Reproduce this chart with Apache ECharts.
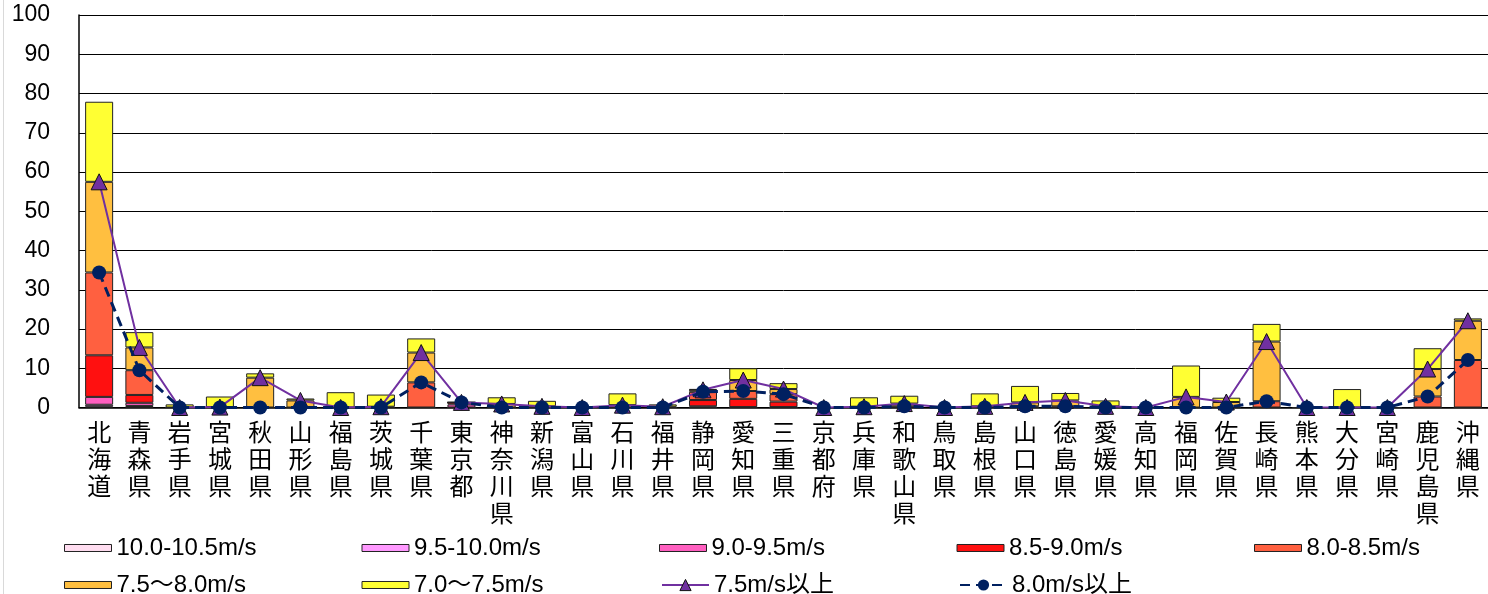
<!DOCTYPE html>
<html>
<head>
<meta charset="utf-8">
<script src="https://cdn.jsdelivr.net/npm/echarts@6/dist/echarts.min.js"></script>
<style>
  html, body { margin: 0; padding: 0; background: #fff; }
  #chart { width: 1488px; height: 594px; }
</style>
</head>
<body>
<div id="chart"></div>
<script>
// Prefectures shown on the category axis
const prefectures = ['北海道','青森県','岩手県','宮城県','秋田県','山形県','福島県','茨城県','千葉県','東京都',
  '神奈川県','新潟県','富山県','石川県','福井県','静岡県','愛知県','三重県','京都府','兵庫県',
  '和歌山県','鳥取県','島根県','山口県','徳島県','愛媛県','高知県','福岡県','佐賀県','長崎県',
  '熊本県','大分県','宮崎県','鹿児島県','沖縄県'];

// Stacked wind-speed classes (bottom to top)
const ws100_105 = [0.2,0.1,0,0,0,0,0,0,0,0, 0,0,0,0,0,0,0,0,0,0, 0,0,0,0,0,0,0,0,0,0, 0,0,0,0,0];
const ws095_100 = [0.5,0.3,0,0,0,0,0,0,0,0, 0,0,0,0,0,0,0,0,0,0, 0,0,0,0,0,0,0,0,0,0, 0,0,0,0,0];
const ws090_095 = [2.0,0.8,0,0,0,0,0,0,0,0.8, 0,0,0,0,0,0.3,0.1,0.1,0,0, 0,0,0,0,0,0,0,0,0,0, 0,0,0,0,0];
const ws085_090 = [10.6,2.0,0,0,0,0,0,0,0,0.5, 0,0,0,0,0,1.6,2.1,1.4,0,0, 0,0,0,0,0,0,0,0,0,0, 0,0,0,0,0];
const ws080_085 = [21.1,6.3,0,0,0,0,0,0,6.4,0, 0,0,0,0,0,2.1,2.0,1.9,0,0, 0.3,0,0,0.3,0.3,0,0,0,0,1.6, 0,0,0,2.8,12.1];
const ws075_080 = [23.1,5.8,0,0.1,7.6,1.8,0,0.2,7.6,0, 0.9,0.3,0,0.6,0.2,0.5,2.8,1.3,0,0.2, 0.7,0,0.3,1.0,1.5,0.3,0,2.7,1.4,15.2, 0,0,0,7.0,10.0];
const ws070_075 = [20.4,3.9,0.8,2.7,1.1,0.5,3.9,3.1,3.6,0, 1.7,1.4,0,3.0,0.6,0.2,3.0,1.5,0,2.4, 2.0,0,3.3,4.2,1.9,1.5,0,8.0,1.1,4.5, 0,4.7,0,5.3,0.6];

// Totals above thresholds
const over75 = [57.5,15.3,0,0.1,7.6,1.8,0,0.2,14.0,1.3, 0.9,0.3,0,0.6,0.2,4.5,7.0,4.7,0,0.2, 1.0,0,0.3,1.3,1.8,0.3,0,2.7,1.4,16.8, 0,0,0,9.8,22.1];
const over80 = [34.4,9.5,0,0,0,0,0,0,6.4,1.3, 0,0,0,0,0,4.0,4.2,3.4,0,0, 0.3,0,0,0.3,0.3,0,0,0,0,1.6, 0,0,0,2.8,12.1];

const yTicks = { min: 0, max: 100, interval: 10 };

const FONT = '"Liberation Sans", "Noto Sans CJK JP", sans-serif';
const FONT_JP = '"Noto Sans CJK JP", "Noto Sans", sans-serif';

const barDefs = [
  { name: '10.0-10.5m/s', data: ws100_105, color: '#FFDDF0' },
  { name: '9.5-10.0m/s',  data: ws095_100, color: '#FF99FF' },
  { name: '9.0-9.5m/s',   data: ws090_095, color: '#FF5FC0' },
  { name: '8.5-9.0m/s',   data: ws085_090, color: '#FF1010' },
  { name: '8.0-8.5m/s',   data: ws080_085, color: '#FF6040' },
  { name: '7.5〜8.0m/s',  data: ws075_080, color: '#FFBF40' },
  { name: '7.0〜7.5m/s',  data: ws070_075, color: '#FFFF33' }
];

const series = barDefs.map(d => ({
  name: d.name,
  type: 'bar',
  stack: 'speed',
  data: d.data,
  barWidth: 28,
  itemStyle: { color: d.color, borderColor: '#222', borderWidth: 1 },
  emphasis: { disabled: true }
}));

series.push({
  name: '7.5m/s以上',
  type: 'line',
  data: over75,
  symbol: 'triangle',
  symbolSize: 16,
  lineStyle: { color: '#7030A0', width: 2 },
  itemStyle: { color: '#7030A0', borderColor: '#111', borderWidth: 1 },
  z: 5
});
series.push({
  name: '8.0m/s以上',
  type: 'line',
  data: over80,
  symbol: 'circle',
  symbolSize: 14,
  lineStyle: { color: '#002060', width: 3, type: [10, 6] },
  itemStyle: { color: '#002060' },
  z: 6
});

const legendItem = s => (s.type === 'bar' ? { name: s.name, icon: 'rect' } : { name: s.name });
const legendCommon = {
  left: 64,
  width: 1480,
  orient: 'horizontal',
  itemWidth: 47,
  itemHeight: 7,
  itemGap: 20,
  padding: 0,
  selectedMode: false,
  itemStyle: { borderWidth: 1 },
  textStyle: { fontSize: 24, lineHeight: 22, width: 225, overflow: 'none', color: '#000', fontFamily: FONT }
};

const chart = echarts.init(document.getElementById('chart'), null, { renderer: 'canvas' });
chart.setOption({
  animation: false,
  backgroundColor: '#fff',
  textStyle: { fontFamily: FONT },
  grid: { left: 79, top: 15, right: -6, bottom: 186.5, containLabel: false },
  xAxis: {
    type: 'category',
    data: prefectures,
    axisLine: { lineStyle: { color: '#000', width: 1.5 } },
    axisTick: { show: false },
    axisLabel: {
      interval: 0,
      margin: 11,
      fontSize: 24,
      lineHeight: 27,
      color: '#000',
      fontFamily: FONT_JP,
      verticalAlign: 'top',
      formatter: v => v.split('').join('\n')
    }
  },
  yAxis: {
    type: 'value',
    min: yTicks.min,
    max: yTicks.max,
    interval: yTicks.interval,
    axisLine: { show: true, lineStyle: { color: '#000', width: 1.5 } },
    axisTick: { show: false },
    axisLabel: { margin: 29, fontSize: 23, color: '#000', fontFamily: FONT },
    splitLine: { lineStyle: { color: '#000', width: 1 } }
  },
  legend: [
    Object.assign({}, legendCommon, { top: 536, data: series.slice(0, 5).map(legendItem) }),
    Object.assign({}, legendCommon, { top: 573, data: series.slice(5, 7).map(legendItem) }),
    Object.assign({}, legendCommon, { top: 573, left: 661, itemHeight: 14, data: series.slice(7).map(legendItem) })
  ],
  graphic: [
    { type: 'line', shape: { x1: 3.5, y1: 0, x2: 3.5, y2: 594 }, style: { stroke: '#d9d9d9', lineWidth: 1 }, silent: true }
  ],
  series: series
});
</script>
</body>
</html>
